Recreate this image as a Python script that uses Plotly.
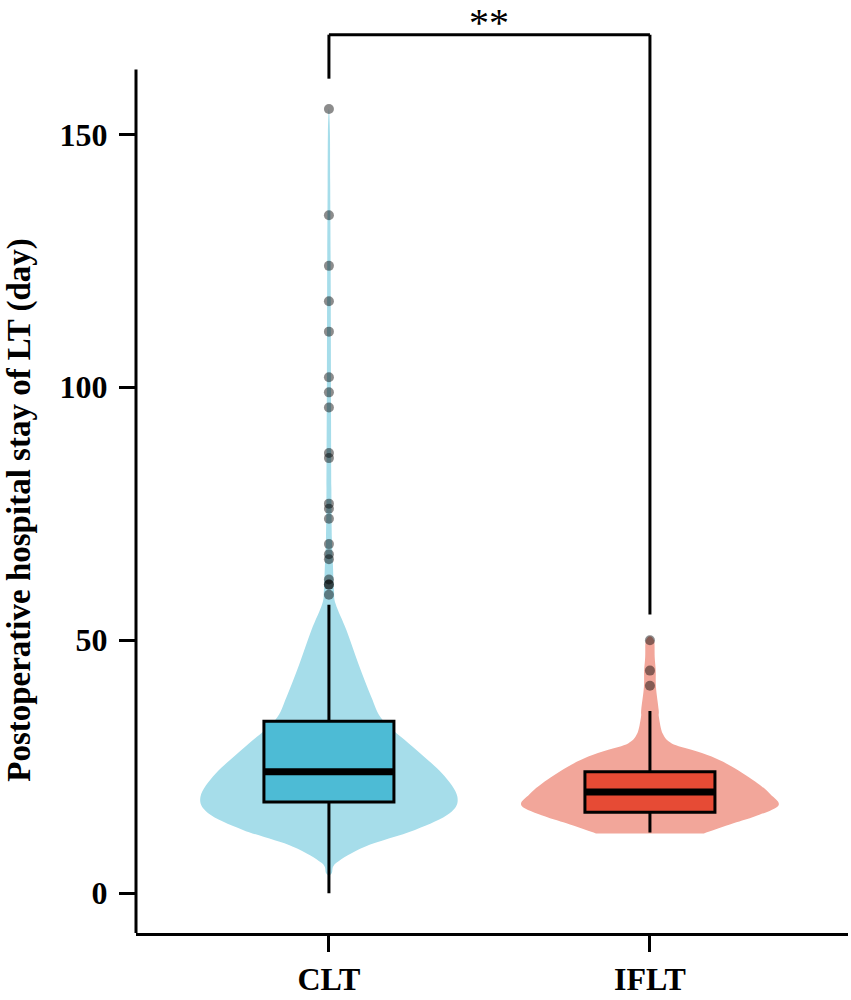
import plotly.graph_objects as go

groups = ["CLT", "IFLT"]
positions = [1, 2]

# box statistics, days
q1 = [18, 16]
median = [24, 20]
q3 = [34, 24]
lower_whisker = [0, 12]
upper_whisker = [57, 36]

clt_outliers = [155, 134, 124, 117, 111, 102, 99, 96, 87, 86, 77, 76, 74,
                69, 67, 66, 62, 61, 61, 59]
iflt_outliers = [50, 44, 41]

# violin outlines: stay (days) and relative density
clt_violin_y = [3.5, 4, 6, 9.2, 12.5, 15.8, 19.1, 23.7, 29, 34.2, 38.8, 45.3,
                52, 57.2, 60, 65, 70, 80, 100, 120, 140, 150, 155]
clt_violin_d = [0, 0.023, 0.058, 0.28, 0.67, 0.94, 1.0, 0.88, 0.65, 0.42, 0.33,
                0.23, 0.136, 0.052, 0.039, 0.031, 0.023, 0.019, 0.016, 0.014,
                0.010, 0.008, 0]
iflt_violin_y = [11.8, 13.8, 15.2, 17.3, 19.5, 21.7, 25, 27, 28.3, 29.6, 31.5,
                 34.8, 36.2, 40.7, 44, 46.7, 49.5, 50.4, 50.8]
iflt_violin_d = [0.42, 0.65, 0.82, 1.0, 0.94, 0.84, 0.64, 0.48, 0.33, 0.17,
                 0.10, 0.07, 0.068, 0.047, 0.045, 0.037, 0.035, 0.022, 0]

sig_label = "**"
sig_top = 169.7
sig_ends = [161.0, 55.1]

violin_fill = ["#A6DDEA", "#F2A69A"]
box_fill = ["#4DBBD5", "#E64B35"]
half_width = 0.40
box_width = 0.405
y_range = [-7.87, 172.6]
y_axis_top = 162.8

serif = "Liberation Serif"


def violin_path(pos, ys, dens):
    # left side bottom->top, then right side top->bottom, smoothed (catmull-rom)
    pts = [(pos - half_width * d, y) for d, y in zip(dens, ys)]
    pts += [(pos + half_width * d, y) for d, y in zip(dens[::-1][1:], ys[::-1][1:])]
    n = len(pts)
    path = "M{},{}".format(*pts[0])
    for i in range(n - 1):
        p0 = pts[max(i - 1, 0)]
        p1 = pts[i]
        p2 = pts[i + 1]
        p3 = pts[min(i + 2, n - 1)]
        c1 = (p1[0] + (p2[0] - p0[0]) / 6, p1[1] + (p2[1] - p0[1]) / 6)
        c2 = (p2[0] - (p3[0] - p1[0]) / 6, p2[1] - (p3[1] - p1[1]) / 6)
        path += " C{},{} {},{} {},{}".format(c1[0], c1[1], c2[0], c2[1], p2[0], p2[1])
    return path + " Z"


fig = go.Figure()

for i, (ys, ds) in enumerate([(clt_violin_y, clt_violin_d), (iflt_violin_y, iflt_violin_d)]):
    fig.add_shape(type="path", xref="x", yref="y", path=violin_path(positions[i], ys, ds),
                  fillcolor=violin_fill[i], line=dict(width=0), layer="below")

for i in range(2):
    fig.add_trace(go.Box(x=[positions[i]], q1=[q1[i]], median=[median[i]], q3=[q3[i]],
                         lowerfence=[lower_whisker[i]], upperfence=[upper_whisker[i]],
                         width=box_width, whiskerwidth=0, boxpoints=False,
                         fillcolor=box_fill[i], line=dict(color="black", width=3),
                         name=groups[i], showlegend=False))
    # thicker median bar
    fig.add_trace(go.Scatter(x=[positions[i] - box_width / 2, positions[i] + box_width / 2],
                             y=[median[i], median[i]], mode="lines",
                             line=dict(color="black", width=7), showlegend=False, hoverinfo="skip"))

for pos, pts in zip(positions, [clt_outliers, iflt_outliers]):
    fig.add_trace(go.Scatter(x=[pos] * len(pts), y=pts, mode="markers",
                             marker=dict(size=10, color="rgba(0,0,0,0.45)", line=dict(width=0)),
                             showlegend=False))

line = dict(color="black", width=3)
# y axis line stops below the bracket
fig.add_shape(type="line", xref="paper", yref="y", x0=0, x1=0, y0=y_range[0], y1=y_axis_top, line=line)
# significance bracket
fig.add_shape(type="line", x0=positions[0], x1=positions[0], y0=sig_ends[0], y1=sig_top, line=line)
fig.add_shape(type="line", x0=positions[0], x1=positions[1], y0=sig_top, y1=sig_top, line=line)
fig.add_shape(type="line", x0=positions[1], x1=positions[1], y0=sig_ends[1], y1=sig_top, line=line)

fig.add_annotation(x=sum(positions) / 2, y=sig_top, text=sig_label, showarrow=False,
                   xanchor="center", yanchor="bottom", yshift=-12,
                   font=dict(family=serif, size=40, color="black"))
fig.add_annotation(xref="paper", yref="paper", x=-0.163, y=0.4635, textangle=-90,
                   xanchor="center", yanchor="middle",
                   text="Postoperative hospital stay of LT (day)", showarrow=False,
                   font=dict(family=serif, size=33, color="black", weight="bold"))

tickfont = dict(family=serif, size=32, color="black", weight="bold")
fig.update_layout(
    width=851, height=1000,
    margin=dict(l=136, r=3, t=20, b=63),
    plot_bgcolor="white", paper_bgcolor="white",
    xaxis=dict(range=[0.399, 2.617], tickvals=positions, ticktext=groups,
               ticks="outside", ticklen=16, tickwidth=3, tickcolor="black",
               showline=True, linewidth=3, linecolor="black",
               showgrid=False, zeroline=False, tickfont=tickfont),
    yaxis=dict(range=y_range, tickvals=[0, 50, 100, 150],
               ticks="outside", ticklen=16, tickwidth=3, tickcolor="black",
               showline=False, showgrid=False, zeroline=False, tickfont=tickfont,
               ticklabelstandoff=5),
)

fig.write_html("out.html", config={"displayModeBar": False},
               post_script="document.body.style.margin = '0';")
